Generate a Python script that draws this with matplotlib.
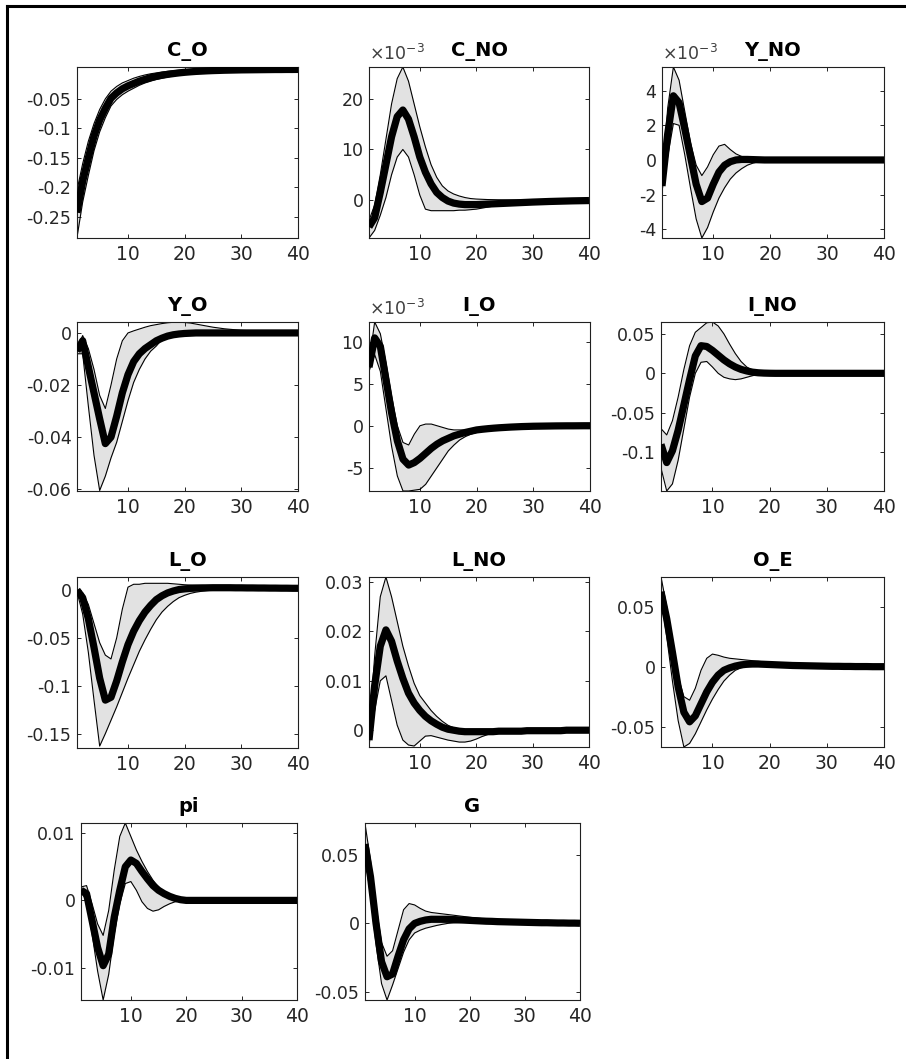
import matplotlib
matplotlib.use("Agg")
import matplotlib.pyplot as plt
from matplotlib.lines import Line2D
from matplotlib.ticker import FuncFormatter

# ---------------- data ----------------
periods = list(range(1, 41))

C_O_mean = [-0.243, -0.190, -0.150, -0.113, -0.086, -0.066, -0.049, -0.040, -0.033, -0.028,
            -0.024, -0.020, -0.017, -0.014, -0.012, -0.010, -0.0085, -0.0072, -0.0060, -0.0050,
            -0.0042, -0.0035, -0.0030, -0.0025, -0.0021, -0.0018, -0.0015, -0.0013, -0.0011, -0.0009,
            -0.0008, -0.0007, -0.0006, -0.0005, -0.0004, -0.0003, -0.0003, -0.0002, -0.0002, -0.0001]
C_O_hi = [-0.205, -0.160, -0.122, -0.092, -0.068, -0.050, -0.037, -0.029, -0.023, -0.019,
          -0.015, -0.012, -0.0095, -0.0075, -0.006, -0.0045, -0.0033, -0.0023, -0.0015, -0.0008,
          -0.0003, 0.0001, 0.0005, 0.0008, 0.0011, 0.0013, 0.0015, 0.0017, 0.0018, 0.0019,
          0.0020, 0.0020, 0.0021, 0.0021, 0.0021, 0.0021, 0.0021, 0.0021, 0.0021, 0.0021]
C_O_lo = [-0.285, -0.225, -0.180, -0.138, -0.106, -0.082, -0.062, -0.051, -0.043, -0.037,
          -0.032, -0.027, -0.023, -0.020, -0.017, -0.015, -0.013, -0.011, -0.0095, -0.0082,
          -0.0071, -0.0062, -0.0054, -0.0047, -0.0041, -0.0036, -0.0032, -0.0028, -0.0025, -0.0022,
          -0.0020, -0.0018, -0.0016, -0.0014, -0.0013, -0.0012, -0.0011, -0.0010, -0.0009, -0.0008]

# C_NO in units of 1e-3
C_NO_mean = [-5.3, -3.5, 1.5, 7.0, 12.5, 16.5, 17.8, 16.0, 12.5, 8.5,
             5.5, 3.2, 1.5, 0.5, -0.2, -0.6, -0.8, -0.9, -0.9, -0.9,
             -0.85, -0.8, -0.75, -0.7, -0.65, -0.6, -0.55, -0.5, -0.45, -0.4,
             -0.36, -0.32, -0.28, -0.25, -0.22, -0.19, -0.16, -0.14, -0.12, -0.10]
C_NO_hi = [-4.0, -1.0, 5.0, 12.0, 19.0, 24.0, 26.3, 23.5, 19.0, 14.5,
           10.5, 7.0, 4.5, 2.8, 1.8, 1.2, 0.8, 0.5, 0.3, 0.2,
           0.15, 0.1, 0.08, 0.06, 0.05, 0.04, 0.03, 0.03, 0.02, 0.02,
           0.02, 0.01, 0.01, 0.01, 0.01, 0.01, 0.0, 0.0, 0.0, 0.0]
C_NO_lo = [-7.5, -6.0, -3.0, 0.5, 5.0, 8.5, 10.0, 8.5, 5.0, 1.0,
           -1.8, -2.1, -2.1, -2.1, -2.1, -2.1, -2.0, -2.0, -1.9, -1.8,
           -1.6, -1.4, -1.2, -1.1, -1.0, -0.9, -0.85, -0.8, -0.75, -0.7,
           -0.65, -0.6, -0.55, -0.5, -0.45, -0.42, -0.4, -0.37, -0.35, -0.32]

# Y_NO in units of 1e-3
Y_NO_mean = [-1.5, 1.5, 3.7, 3.3, 1.8, 0.2, -1.4, -2.4, -2.2, -1.4,
             -0.7, -0.3, -0.1, 0.0, 0.03, 0.03, 0.02, 0.01, 0.0, 0.0,
             0.0, 0.0, 0.0, 0.0, 0.0, 0.0, 0.0, 0.0, 0.0, 0.0,
             0.0, 0.0, 0.0, 0.0, 0.0, 0.0, 0.0, 0.0, 0.0, 0.0]
Y_NO_hi = [-1.2, 3.0, 5.36, 4.6, 2.8, 1.0, -0.3, -0.9, -0.4, 0.3,
           0.8, 0.9, 0.6, 0.35, 0.2, 0.1, 0.05, 0.02, 0.0, 0.0,
           0.0, 0.0, 0.0, 0.0, 0.0, 0.0, 0.0, 0.0, 0.0, 0.0,
           0.0, 0.0, 0.0, 0.0, 0.0, 0.0, 0.0, 0.0, 0.0, 0.0]
Y_NO_lo = [-1.8, 0.2, 2.1, 2.0, 0.3, -1.6, -3.4, -4.5, -3.9, -3.0,
           -2.2, -1.6, -1.1, -0.75, -0.5, -0.3, -0.18, -0.1, -0.05, -0.02,
           0.0, 0.0, 0.0, 0.0, 0.0, 0.0, 0.0, 0.0, 0.0, 0.0,
           0.0, 0.0, 0.0, 0.0, 0.0, 0.0, 0.0, 0.0, 0.0, 0.0]

Y_O_mean = [-0.007, -0.003, -0.013, -0.023, -0.033, -0.0425, -0.040, -0.032, -0.023, -0.016,
            -0.011, -0.008, -0.006, -0.0045, -0.003, -0.002, -0.0012, -0.0007, -0.0004, -0.0002,
            -0.0001, 0.0, 0.0, 0.0, 0.0, 0.0, 0.0, 0.0, 0.0, 0.0,
            0.0, 0.0, 0.0, 0.0, 0.0, 0.0, 0.0, 0.0, 0.0, 0.0]
Y_O_hi = [-0.006, -0.001, -0.006, -0.014, -0.024, -0.029, -0.020, -0.010, -0.003, 0.0,
          0.0008, 0.0015, 0.0022, 0.0028, 0.0032, 0.0036, 0.0039, 0.0041, 0.0041, 0.0040,
          0.0038, 0.0034, 0.0030, 0.0026, 0.0022, 0.0019, 0.0016, 0.0014, 0.0012, 0.0010,
          0.0009, 0.0008, 0.0007, 0.0006, 0.0005, 0.0005, 0.0004, 0.0004, 0.0003, 0.0003]
Y_O_lo = [-0.008, -0.008, -0.028, -0.047, -0.0605, -0.055, -0.048, -0.042, -0.034, -0.026,
          -0.019, -0.014, -0.010, -0.007, -0.005, -0.0025, -0.0015, -0.001, -0.0006, -0.0003,
          -0.0002, -0.0001, 0.0, 0.0, 0.0, 0.0, 0.0, 0.0, 0.0, 0.0,
          0.0, 0.0, 0.0, 0.0, 0.0, 0.0, 0.0, 0.0, 0.0, 0.0]

# I_O in units of 1e-3
I_O_mean = [7.0, 10.5, 9.5, 5.5, 1.5, -1.8, -4.0, -4.7, -4.4, -3.9,
            -3.3, -2.7, -2.2, -1.8, -1.5, -1.2, -1.0, -0.8, -0.65, -0.5,
            -0.42, -0.35, -0.29, -0.24, -0.2, -0.16, -0.13, -0.1, -0.08, -0.06,
            -0.05, -0.04, -0.03, -0.02, -0.015, -0.01, -0.01, -0.005, 0.0, 0.0]
I_O_hi = [7.5, 12.4, 11.0, 7.5, 3.5, 0.0, -2.0, -2.3, -1.0, 0.0,
          0.2, 0.2, 0.0, -0.2, -0.4, -0.5, -0.5, -0.5, -0.45, -0.4,
          -0.35, -0.3, -0.25, -0.2, -0.17, -0.14, -0.11, -0.09, -0.07, -0.05,
          -0.04, -0.03, -0.02, -0.015, -0.01, -0.01, -0.005, 0.0, 0.0, 0.0]
I_O_lo = [6.5, 8.5, 6.5, 2.0, -2.5, -6.0, -7.8, -7.8, -7.7, -7.6,
          -7.0, -6.0, -5.0, -4.0, -3.0, -2.3, -1.7, -1.3, -1.0, -0.8,
          -0.65, -0.55, -0.45, -0.37, -0.3, -0.25, -0.2, -0.16, -0.13, -0.1,
          -0.08, -0.06, -0.05, -0.04, -0.03, -0.02, -0.015, -0.01, -0.005, 0.0]

I_NO_mean = [-0.090, -0.113, -0.098, -0.072, -0.040, -0.008, 0.022, 0.035, 0.034, 0.029,
             0.023, 0.017, 0.012, 0.008, 0.005, 0.003, 0.0015, 0.0007, 0.0003, 0.0001,
             0.0, 0.0, 0.0, 0.0, 0.0, 0.0, 0.0, 0.0, 0.0, 0.0,
             0.0, 0.0, 0.0, 0.0, 0.0, 0.0, 0.0, 0.0, 0.0, 0.0]
I_NO_hi = [-0.070, -0.078, -0.060, -0.030, 0.005, 0.035, 0.052, 0.058, 0.064, 0.065,
           0.060, 0.050, 0.037, 0.025, 0.015, 0.008, 0.004, 0.002, 0.001, 0.0005,
           0.0, 0.0, 0.0, 0.0, 0.0, 0.0, 0.0, 0.0, 0.0, 0.0,
           0.0, 0.0, 0.0, 0.0, 0.0, 0.0, 0.0, 0.0, 0.0, 0.0]
I_NO_lo = [-0.120, -0.149, -0.140, -0.110, -0.070, -0.030, 0.000, 0.014, 0.015, 0.008,
           0.000, -0.005, -0.007, -0.008, -0.007, -0.005, -0.003, -0.0015, -0.0007, -0.0003,
           0.0, 0.0, 0.0, 0.0, 0.0, 0.0, 0.0, 0.0, 0.0, 0.0,
           0.0, 0.0, 0.0, 0.0, 0.0, 0.0, 0.0, 0.0, 0.0, 0.0]

L_O_mean = [0.0, -0.008, -0.030, -0.060, -0.092, -0.115, -0.112, -0.095, -0.075, -0.057,
            -0.043, -0.032, -0.023, -0.016, -0.010, -0.006, -0.003, -0.001, 0.0005, 0.0012,
            0.0017, 0.0020, 0.0022, 0.0023, 0.0024, 0.0024, 0.0024, 0.0024, 0.0023, 0.0023,
            0.0022, 0.0022, 0.0021, 0.0021, 0.0020, 0.0020, 0.0019, 0.0019, 0.0018, 0.0018]
L_O_hi = [0.0, -0.003, -0.015, -0.035, -0.055, -0.068, -0.072, -0.050, -0.020, 0.003,
          0.006, 0.006, 0.007, 0.007, 0.007, 0.007, 0.007, 0.0065, 0.006, 0.0055,
          0.0052, 0.0050, 0.0048, 0.0046, 0.0045, 0.0044, 0.0043, 0.0042, 0.0041, 0.0040,
          0.0039, 0.0038, 0.0037, 0.0036, 0.0035, 0.0034, 0.0033, 0.0032, 0.0031, 0.0030]
L_O_lo = [-0.002, -0.025, -0.065, -0.115, -0.163, -0.150, -0.136, -0.122, -0.107, -0.092,
          -0.078, -0.064, -0.052, -0.041, -0.031, -0.023, -0.017, -0.012, -0.008, -0.0055,
          -0.0035, -0.0022, -0.0013, -0.0006, -0.0002, 0.0, 0.0002, 0.0003, 0.0004, 0.0005,
          0.0005, 0.0006, 0.0006, 0.0006, 0.0006, 0.0006, 0.0006, 0.0006, 0.0006, 0.0006]

L_NO_mean = [-0.002, 0.009, 0.017, 0.0203, 0.018, 0.014, 0.0105, 0.0075, 0.0055, 0.004,
             0.0028, 0.0019, 0.0012, 0.0006, 0.0002, 0.0, -0.0002, -0.0003, -0.0003, -0.0003,
             -0.0003, -0.0003, -0.0003, -0.0002, -0.0002, -0.0002, -0.0002, -0.0002, -0.0001, -0.0001,
             -0.0001, -0.0001, -0.0001, -0.0001, -0.0001, 0.0, 0.0, 0.0, 0.0, 0.0]
L_NO_hi = [-0.001, 0.015, 0.027, 0.031, 0.027, 0.022, 0.017, 0.013, 0.0095, 0.007,
           0.0055, 0.004, 0.0028, 0.0018, 0.001, 0.0005, 0.0002, 0.0001, 0.0, 0.0,
           0.0, 0.0, 0.0, 0.0, 0.0, 0.0, 0.0, 0.0, 0.0, 0.0,
           0.0, 0.0, 0.0, 0.0, 0.0, 0.0, 0.0, 0.0, 0.0, 0.0]
L_NO_lo = [-0.003, 0.004, 0.010, 0.011, 0.006, 0.001, -0.002, -0.003, -0.0032, -0.0022,
           -0.0012, -0.0011, -0.0014, -0.0017, -0.0020, -0.0022, -0.0024, -0.0024, -0.0022, -0.0018,
           -0.0013, -0.0009, -0.0006, -0.0004, -0.0003, -0.0003, -0.0002, -0.0002, -0.0002, -0.0002,
           -0.0002, -0.0002, -0.0002, -0.0001, -0.0001, -0.0001, -0.0001, -0.0001, -0.0001, -0.0001]

O_E_mean = [0.0625, 0.040, 0.012, -0.017, -0.038, -0.046, -0.041, -0.031, -0.021, -0.013,
            -0.007, -0.003, -0.001, 0.0005, 0.0015, 0.002, 0.0022, 0.0022, 0.002, 0.0018,
            0.0016, 0.0014, 0.0012, 0.001, 0.0009, 0.0008, 0.0007, 0.0006, 0.0005, 0.0004,
            0.0003, 0.0003, 0.0002, 0.0002, 0.0001, 0.0001, 0.0001, 0.0, 0.0, 0.0]
O_E_hi = [0.075, 0.050, 0.020, -0.008, -0.025, -0.028, -0.018, -0.003, 0.007, 0.0105,
          0.0095, 0.008, 0.007, 0.0065, 0.006, 0.0055, 0.005, 0.0045, 0.004, 0.0035,
          0.003, 0.0027, 0.0024, 0.0021, 0.0018, 0.0016, 0.0014, 0.0012, 0.001, 0.0009,
          0.0008, 0.0007, 0.0006, 0.0005, 0.0004, 0.0003, 0.0003, 0.0002, 0.0002, 0.0001]
O_E_lo = [0.058, 0.025, -0.012, -0.045, -0.067, -0.064, -0.056, -0.046, -0.036, -0.027,
          -0.019, -0.012, -0.007, -0.003, -0.001, 0.0, 0.0005, 0.0008, 0.0008, 0.0007,
          0.0006, 0.0005, 0.0004, 0.0003, 0.0003, 0.0002, 0.0002, 0.0001, 0.0001, 0.0001,
          0.0, 0.0, 0.0, 0.0, 0.0, 0.0, 0.0, 0.0, 0.0, 0.0]

pi_mean = [0.0015, 0.001, -0.003, -0.007, -0.0097, -0.008, -0.0025, 0.0015, 0.005, 0.006,
           0.0055, 0.0043, 0.0032, 0.0022, 0.0015, 0.001, 0.0006, 0.0003, 0.0001, 0.0,
           0.0, 0.0, 0.0, 0.0, 0.0, 0.0, 0.0, 0.0, 0.0, 0.0,
           0.0, 0.0, 0.0, 0.0, 0.0, 0.0, 0.0, 0.0, 0.0, 0.0]
pi_hi = [0.002, 0.0022, -0.0005, -0.0035, -0.0052, -0.0015, 0.0045, 0.0095, 0.0115, 0.0095,
         0.0075, 0.0058, 0.0043, 0.003, 0.002, 0.0012, 0.0007, 0.0003, 0.0001, 0.0,
         0.0, 0.0, 0.0, 0.0, 0.0, 0.0, 0.0, 0.0, 0.0, 0.0,
         0.0, 0.0, 0.0, 0.0, 0.0, 0.0, 0.0, 0.0, 0.0, 0.0]
pi_lo = [0.0012, 0.0, -0.005, -0.0105, -0.0148, -0.011, -0.005, -0.0005, 0.0025, 0.0028,
         0.0015, -0.0002, -0.0012, -0.0016, -0.0014, -0.0009, -0.0005, -0.0002, -0.0001, 0.0,
         0.0, 0.0, 0.0, 0.0, 0.0, 0.0, 0.0, 0.0, 0.0, 0.0,
         0.0, 0.0, 0.0, 0.0, 0.0, 0.0, 0.0, 0.0, 0.0, 0.0]

G_mean = [0.058, 0.034, 0.0, -0.028, -0.039, -0.037, -0.024, -0.012, -0.004, 0.0,
          0.0015, 0.0025, 0.003, 0.003, 0.003, 0.003, 0.0028, 0.0026, 0.0024, 0.0022,
          0.002, 0.0018, 0.0016, 0.0015, 0.0013, 0.0012, 0.0011, 0.001, 0.0009, 0.0008,
          0.0007, 0.0006, 0.0005, 0.0005, 0.0004, 0.0003, 0.0003, 0.0002, 0.0002, 0.0001]
G_hi = [0.073, 0.046, 0.013, -0.014, -0.024, -0.020, -0.005, 0.010, 0.0145, 0.0135,
        0.011, 0.009, 0.008, 0.0075, 0.007, 0.0065, 0.006, 0.0055, 0.005, 0.0045,
        0.004, 0.0036, 0.0032, 0.0029, 0.0026, 0.0023, 0.0021, 0.0019, 0.0017, 0.0015,
        0.0013, 0.0012, 0.0011, 0.001, 0.0009, 0.0008, 0.0007, 0.0006, 0.0005, 0.0004]
G_lo = [0.050, 0.020, -0.015, -0.044, -0.056, -0.045, -0.033, -0.021, -0.012, -0.007,
        -0.005, -0.0035, -0.0025, -0.0015, -0.0007, 0.0, 0.0004, 0.0006, 0.0007, 0.0007,
        0.0007, 0.0006, 0.0006, 0.0005, 0.0005, 0.0004, 0.0004, 0.0003, 0.0003, 0.0003,
        0.0002, 0.0002, 0.0002, 0.0001, 0.0001, 0.0001, 0.0, 0.0, 0.0, 0.0]

titles = ["C_O", "C_NO", "Y_NO", "Y_O", "I_O", "I_NO", "L_O", "L_NO", "O_E", "pi", "G"]
series = {
    "C_O": (C_O_lo, C_O_mean, C_O_hi),
    "C_NO": (C_NO_lo, C_NO_mean, C_NO_hi),
    "Y_NO": (Y_NO_lo, Y_NO_mean, Y_NO_hi),
    "Y_O": (Y_O_lo, Y_O_mean, Y_O_hi),
    "I_O": (I_O_lo, I_O_mean, I_O_hi),
    "I_NO": (I_NO_lo, I_NO_mean, I_NO_hi),
    "L_O": (L_O_lo, L_O_mean, L_O_hi),
    "L_NO": (L_NO_lo, L_NO_mean, L_NO_hi),
    "O_E": (O_E_lo, O_E_mean, O_E_hi),
    "pi": (pi_lo, pi_mean, pi_hi),
    "G": (G_lo, G_mean, G_hi),
}
scaled_e3 = ["C_NO", "Y_NO", "I_O"]   # values shown in units of 1e-3
x_ticks = [10, 20, 30, 40]
y_ticks = {
    "C_O": [-0.25, -0.2, -0.15, -0.1, -0.05],
    "C_NO": [0, 10, 20],
    "Y_NO": [-4, -2, 0, 2, 4],
    "Y_O": [-0.06, -0.04, -0.02, 0],
    "I_O": [-5, 0, 5, 10],
    "I_NO": [-0.1, -0.05, 0, 0.05],
    "L_O": [-0.15, -0.1, -0.05, 0],
    "L_NO": [0, 0.01, 0.02, 0.03],
    "O_E": [-0.05, 0, 0.05],
    "pi": [-0.01, 0, 0.01],
    "G": [-0.05, 0, 0.05],
}

# ---------------- layout (pixels) ----------------
W, H = 906, 1059
y_lims = {
    "C_O": (-0.286, 0.004), "C_NO": (-7.5, 26.3), "Y_NO": (-4.5, 5.36),
    "Y_O": (-0.0607, 0.0042), "I_O": (-7.8, 12.4), "I_NO": (-0.149, 0.065),
    "L_O": (-0.165, 0.0136), "L_NO": (-0.0034, 0.031), "O_E": (-0.067, 0.0748),
    "pi": (-0.0148, 0.0115), "G": (-0.056, 0.0734),
}
boxes = {  # left, right, top, bottom in px
    "C_O": (77, 298, 67, 238), "C_NO": (369, 589, 67, 238), "Y_NO": (662, 884, 67, 238),
    "Y_O": (77, 298, 322, 491), "I_O": (369, 590, 322, 491), "I_NO": (661, 884, 322, 491),
    "L_O": (77, 298, 577, 748), "L_NO": (369, 589, 577, 747), "O_E": (661, 884, 577, 747),
    "pi": (81, 297, 823, 1000), "G": (365, 580, 823, 1000),
}

TXT = "#262626"
fig = plt.figure(figsize=(W / 100, H / 100), dpi=100)
fig.patch.set_facecolor("white")

fmt = FuncFormatter(lambda v, _: f"{v:g}")

for name in titles:
    l, r, t, b = boxes[name]
    ax = fig.add_axes([l / W, 1 - b / H, (r - l) / W, (b - t) / H])
    lo, mid, hi = series[name]
    ax.fill_between(periods, lo, hi, color="#e2e2e2", lw=0, zorder=1)
    ax.plot(periods, lo, color="black", lw=0.8, zorder=2)
    ax.plot(periods, hi, color="black", lw=0.8, zorder=2)
    ax.plot(periods, mid, color="black", lw=5.2, solid_capstyle="butt", zorder=3)
    ax.set_xlim(1, 40)
    ax.set_ylim(*y_lims[name])
    ax.set_xticks(x_ticks)
    ax.set_yticks(y_ticks[name])
    ax.yaxis.set_major_formatter(fmt)
    ax.tick_params(direction="in", top=True, right=True, length=3, width=0.7,
                   colors=TXT, labelcolor=TXT)
    ax.tick_params(axis="x", labelsize=13.5, pad=5)
    ax.tick_params(axis="y", labelsize=12.5, pad=4)
    for s in ax.spines.values():
        s.set_linewidth(0.8)
        s.set_color("#202020")
    ax.set_title(name, fontsize=14, fontweight="bold", pad=8, color="black")
    if name in scaled_e3:
        ax.text(0.0, 1.015, r"$\times10^{-3}$", transform=ax.transAxes,
                ha="left", va="bottom", fontsize=12.5, color="#404040")

# page frame (top and left edges)
fig.add_artist(Line2D([7 / W, 7 / W], [0, 1 - 6 / H], transform=fig.transFigure,
                      color="black", lw=2.2))
fig.add_artist(Line2D([7 / W, 1], [1 - 6 / H, 1 - 6 / H], transform=fig.transFigure,
                      color="black", lw=2.2))

fig.savefig("out.png", dpi=100, facecolor="white")
